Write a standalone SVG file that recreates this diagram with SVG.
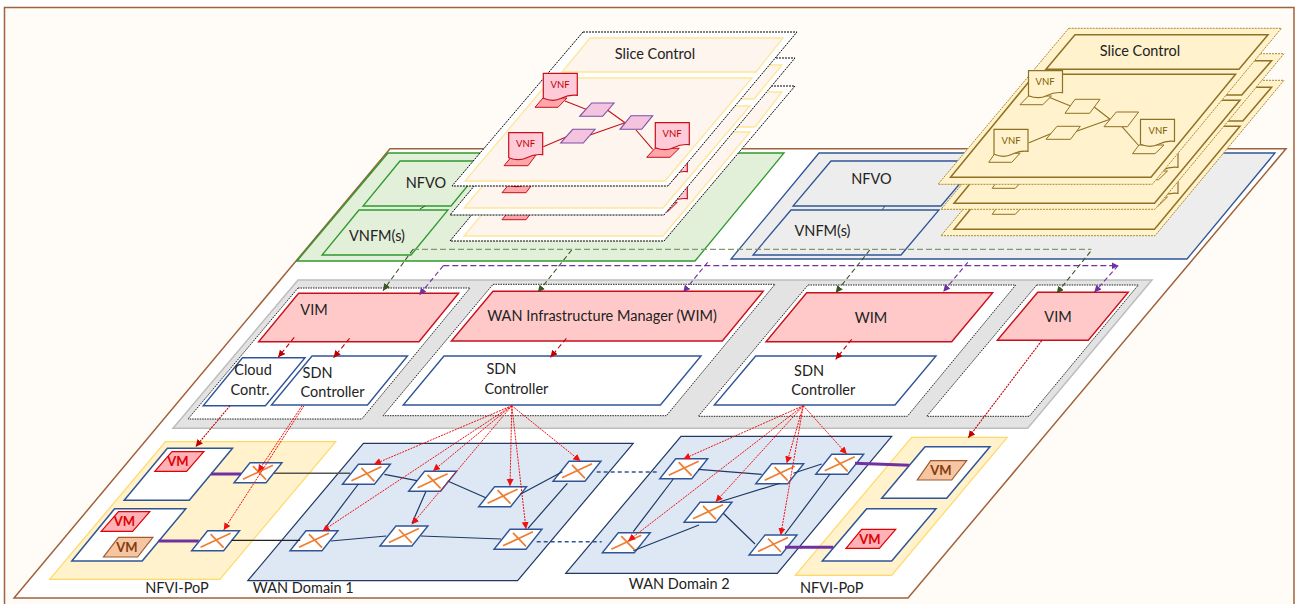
<svg xmlns="http://www.w3.org/2000/svg" width="1295" height="604" viewBox="0 0 1295 604">
<style>
text{font-family:Lato,"Open Sans","Liberation Sans",sans-serif;fill:#222;text-anchor:middle;font-size:14.5px}
.vnf{font-size:9.5px;fill:#c00000}
.vnfy{font-size:9.5px;fill:#806000}
.vmr{font-size:13px;font-weight:700;fill:#e00000}
.vmb{font-size:13px;font-weight:700;fill:#843c0c}
.band{fill:#e3e3e3;stroke:#bdbdbd;stroke-width:1.5}
.zone{fill:#fff;stroke:#222;stroke-width:1;stroke-dasharray:1.5 1}
.mgr{fill:#ffc9c9;stroke:#c8101c;stroke-width:1.4}
.ctl{fill:#fff;stroke:#2f5597;stroke-width:1.4}
.pop{fill:#fff2cc;stroke:#ffd966;stroke-width:1.2}
.wan{fill:#dee8f4;stroke:#1f3864;stroke-width:1.2}
.host{fill:#fff;stroke:#2f5597;stroke-width:1.5}
.vm1{fill:#ffb3b8;stroke:#e00000;stroke-width:1.2}
.vm2{fill:#f6c5a2;stroke:#a05a2c;stroke-width:1.2}
.sw{fill:#fff;stroke:#2f5597;stroke-width:1.4}
.swx{fill:none;stroke:#ed7d31;stroke-width:1.7}
.gr{fill:#e2efd9;stroke:#2e9a2e;stroke-width:1.3}
.gy{fill:#ededed;stroke:#2f5597;stroke-width:1.3}
.lf{fill:#fff;stroke:#000;stroke-width:1;stroke-dasharray:2 1}
.li{fill:#fdf5ee;stroke:#ffe699;stroke-width:1.3}
.rf{fill:#fff2cc;stroke:#a68a2c;stroke-width:1;stroke-dasharray:2 1}
.ri{fill:#fff2cc;stroke:#8f7122;stroke-width:1.5}
.docr{fill:#ffcbd9;stroke:#c8101c;stroke-width:1.2}
.baser{fill:#ffa6ab;stroke:#c8101c;stroke-width:1}
.para{fill:#f4c4de;stroke:#7d4ea8;stroke-width:1.1}
.rl{fill:none;stroke:#c8101c;stroke-width:1.1}
.docy{fill:#fff2cc;stroke:#8f7122;stroke-width:1.2}
.basey{fill:#fff2cc;stroke:#8f7122;stroke-width:1}
.yl{fill:none;stroke:#8f7122;stroke-width:1.1}
.lk{fill:none;stroke:#1f3864;stroke-width:1.2}
.lkd{fill:none;stroke:#2f5597;stroke-width:1.4;stroke-dasharray:4 3}
.pur{fill:none;stroke:#7030a0;stroke-width:3}
.dg{fill:none;stroke:#375623;stroke-width:1.1;stroke-dasharray:5 3;marker-end:url(#ag)}
.dgh{fill:none;stroke:#7f9a6f;stroke-width:1.3;stroke-dasharray:6 3}
.dp{fill:none;stroke:#7030a0;stroke-width:1.1;stroke-dasharray:5 3;marker-end:url(#ap)}
.dc{fill:none;stroke:#c00000;stroke-width:1.1;stroke-dasharray:5 3;marker-end:url(#ac)}
.dr{fill:none;stroke:#f01010;stroke-width:1;stroke-dasharray:2 1;marker-end:url(#ar)}
</style>
<defs>
<marker id="ag" markerUnits="userSpaceOnUse" markerWidth="8" markerHeight="8" refX="7" refY="3.5" orient="auto"><path d="M0 0L7 3.5L0 7Z" fill="#375623"/></marker>
<marker id="ap" markerUnits="userSpaceOnUse" markerWidth="8" markerHeight="8" refX="7" refY="3.5" orient="auto"><path d="M0 0L7 3.5L0 7Z" fill="#7030a0"/></marker>
<marker id="ac" markerUnits="userSpaceOnUse" markerWidth="8" markerHeight="8" refX="7" refY="3.5" orient="auto"><path d="M0 0L7 3.5L0 7Z" fill="#c00000"/></marker>
<marker id="ar" markerUnits="userSpaceOnUse" markerWidth="8" markerHeight="8" refX="7" refY="3.5" orient="auto"><path d="M0 0L7 3.5L0 7Z" fill="#f01010"/></marker>
<g id="sw"><path class="sw" d="M0 0H32L16 20H-16Z"/><path class="swx" d="M-7 16.5L23 2.5M3 3.5L16 17"/></g>
<path id="doc" d="M0 0H34V22Q26 21 18 25T0 25Z"/>
<g id="slice-l">
<path class="rl" d="M565 101L586 109.3M607.3 110L625 122.7M543.3 146.7L566.7 136.7M590 135L625 122.7M636 130L652.7 149.3"/>
<path class="baser" d="M535 107.3H558L567 98H543Z"/><use href="#doc" class="docr" x="543.3" y="73.3"/><text class="vnf" x="560" y="87.5">VNF</text>
<path class="baser" d="M504 165.7H528L536 155H513Z"/><use href="#doc" class="docr" x="508.7" y="132.7"/><text class="vnf" x="525.5" y="147">VNF</text>
<path class="baser" d="M646.7 157.3H670L679.3 148.3H655Z"/><use href="#doc" class="docr" x="655.3" y="122.7"/><text class="vnf" x="672" y="137">VNF</text>
<path class="para" d="M591.7 103H614L602.7 116.3H579.7Z"/><path class="para" d="M572.7 129.3H595L583.3 143H560.7Z"/><path class="para" d="M631 115.7H652.7L641.7 129.3H620Z"/>
</g>
<g id="slice-r">
<path class="yl" d="M1049 97.3L1070.5 106M1093 106L1110 119.3M1029 142.7L1052 133.3M1075 131.7L1110 119.3M1122 126.7L1139 146"/>
<path class="basey" d="M1020 104.7H1042.8L1051.5 96H1028.4Z"/><use href="#doc" class="docy" x="1028.5" y="70.7"/><text class="vnfy" x="1045" y="85">VNF</text>
<path class="basey" d="M988.7 162.3H1011.8L1020 153.3H995Z"/><use href="#doc" class="docy" x="994" y="129.3"/><text class="vnfy" x="1011" y="143.5">VNF</text>
<path class="basey" d="M1132.5 153.7H1155L1164 145H1139Z"/><use href="#doc" class="docy" x="1140.5" y="119.3"/><text class="vnfy" x="1158" y="133.5">VNF</text>
<path class="basey" d="M1075 99.3H1100L1089.6 113.3H1065Z"/><path class="basey" d="M1057 126.3H1080.3L1070.5 139.3H1046Z"/><path class="basey" d="M1116.3 112H1138.6L1127.5 126.7H1104Z"/>
</g>
</defs>
<rect x="4.5" y="7.5" width="1289.5" height="610" fill="#fffcf7" stroke="#a0623a" stroke-width="1.5"/>
<path id="plane" d="M390 148.7H1286L908 598H14Z" fill="#fff" stroke="#a0623a" stroke-width="1.5"/>

<g id="orchestrator-left">
<path class="gr" d="M388 153H784L695 261H297Z"/>
<path class="gr" d="M400 161H488L451 206H363Z"/>
<path class="gr" d="M359 210H448L411 255H322Z"/>
<path d="M420 209L425 206" stroke="#375623" fill="none"/>
<text x="426" y="188">NFVO</text><text x="377" y="240.5">VNFM(s)</text>
</g>
<g id="orchestrator-right">
<path class="gy" d="M819 153H1275L1187 259H731Z"/>
<path class="gy" d="M831 161H979L941 206H793Z"/>
<path class="gy" d="M791 210H939L901 255H753Z"/>
<path d="M882 210L885 206" stroke="#375623" fill="none"/>
<text x="871.5" y="184">NFVO</text><text x="822.5" y="236">VNFM(s)</text>
</g>

<g id="slices-left">
<path class="lf" d="M579 86H795L664 241H450Z"/>
<path class="li" d="M592 92H782L755 127H564Z"/><path class="li" d="M550 132H750L663 236H464Z"/>
<use href="#slice-l" x="-2" y="54"/>
<path class="lf" d="M581 58H795L664 215H450Z"/>
<path class="li" d="M592 65H782L754 99H564Z"/><path class="li" d="M550 106H750L663 208H464Z"/>
<use href="#slice-l" x="-2" y="27"/>
<path class="lf" d="M583 32H797L668 186H452Z"/>
<path class="li" d="M590 38H783L756 72H562Z"/><path class="li" d="M552 78H752L665 181H465Z"/>
<use href="#slice-l"/>
<text x="655" y="59">Slice Control</text>
</g>
<g id="slices-right">
<path class="rf" d="M1071 80.3H1284L1155 235.7H941Z"/>
<path class="ri" d="M1078 87.3H1271.6L1242.8 121H1050Z"/><path class="ri" d="M1038.5 126.3H1240L1154.5 229.3H954Z"/>
<use href="#slice-r" x="3.5" y="52"/>
<path class="rf" d="M1071 53.7H1284L1155 209.3H941Z"/>
<path class="ri" d="M1078 60.7H1271.6L1241.7 95H1050Z"/><path class="ri" d="M1038.5 100.3H1240L1154.5 203.3H954Z"/>
<use href="#slice-r" x="3.5" y="26"/>
<path class="rf" d="M1068.7 28.3H1281.4L1152.3 184.3H938Z"/>
<path class="ri" d="M1075 34.7H1268L1239 69.3H1046Z"/><path class="ri" d="M1035 74.3H1235.6L1151 177.3H950.5Z"/>
<use href="#slice-r"/>
<text x="1140" y="56">Slice Control</text>
</g>

<g id="control-band">
<path class="band" d="M298 280H1152L1027.7 428.3H173Z"/>
<path class="zone" d="M298 288H470L361.8 419H188Z"/>
<path class="zone" d="M493 284.3H775L666.4 415.7H383Z"/>
<path class="zone" d="M808 285H1015.7L907.3 416.3H698.3Z"/>
<path class="zone" d="M1036.7 285H1138.3L1029.3 416.3H926.7Z"/>
</g>
<g id="vim-1"><path class="mgr" d="M298.6 293.3H458.6L419 341.7H258.6Z"/><text x="314" y="315">VIM</text></g>
<g id="wim-1"><path class="mgr" d="M493 291.3H763.3L722.3 341H451.4Z"/><text x="602" y="321">WAN Infrastructure Manager (WIM)</text></g>
<g id="wim-2"><path class="mgr" d="M806.7 292.7H992.7L951.7 341.7H766Z"/><text x="871" y="323">WIM</text></g>
<g id="vim-2"><path class="mgr" d="M1037.7 292.3H1128.3L1088.3 340.3H997.3Z"/><text x="1058" y="322">VIM</text></g>
<g id="cloud-controller"><path class="ctl" d="M242.5 357.7H305L265.4 405.7H203.2Z"/><text x="253" y="375">Cloud</text><text x="250" y="395">Contr.</text></g>
<g id="sdn-1"><path class="ctl" d="M312 356H407.5L367.5 405H271.4Z"/><text x="317.5" y="378">SDN</text><text x="332.5" y="397">Controller</text></g>
<g id="sdn-2"><path class="ctl" d="M444 356H701L660.4 405H403.2Z"/><text x="501.4" y="374">SDN</text><text x="516.4" y="394">Controller</text></g>
<g id="sdn-3"><path class="ctl" d="M755.7 356H936L895 405H714.3Z"/><text x="809" y="376">SDN</text><text x="823.3" y="395">Controller</text></g>

<g id="nfvi-pop-left">
<path class="pop" d="M165.5 441.7H335.8L219.9 579.3H49.6Z"/>
<path class="host" d="M167.4 448.3H232.5L189.3 500.3H124.2Z"/>
<path class="host" d="M114.6 508.7H185.8L142.2 561H71.8Z"/>
<path class="vm1" d="M172 451.7H203.8L186.6 471.3H154.8Z"/><text class="vmr" x="178" y="466">VM</text>
<path class="vm1" d="M118.5 511.7H149.8L132.6 531.3H101.2Z"/><text class="vmr" x="124.5" y="526">VM</text>
<path class="vm2" d="M118.5 537.3H152.9L137.6 557H103.5Z"/><text class="vmb" x="127" y="552">VM</text>
<text x="177" y="592.5">NFVI-PoP</text>
</g>
<g id="wan-domain-1"><path class="wan" d="M363.4 443.3H633.2L517.6 580.7H247.8Z"/><text x="303.3" y="592.5">WAN Domain 1</text></g>
<g id="wan-domain-2"><path class="wan" d="M681 436.3H891.7L777.3 573.3H565.7Z"/><text x="679.3" y="589">WAN Domain 2</text></g>
<g id="nfvi-pop-right">
<path class="pop" d="M911.7 437.3H1007.3L891.7 575.3H795.3Z"/>
<path class="host" d="M925 446.7H990L946.7 498.3H881.7Z"/>
<path class="host" d="M866.7 508.7H936L891.7 561H822.3Z"/>
<path class="vm2" d="M930.7 460.7H966.7L951.7 480H917.3Z"/><text class="vmb" x="941" y="475">VM</text>
<path class="vm1" d="M861.7 529.3H895.7L879.3 548.3H846Z"/><text class="vmr" x="870" y="543.5">VM</text>
<text x="831.7" y="592.5">NFVI-PoP</text>
</g>

<g id="switches">
<use id="s1" href="#sw" x="250" y="462.7"/><use id="s2" href="#sw" x="207.6" y="530.7"/>
<use id="w1" href="#sw" x="358.4" y="464.3"/><use id="w2" href="#sw" x="424.6" y="471.3"/><use id="w3" href="#sw" x="494.6" y="486.7"/><use id="w4" href="#sw" x="569" y="461.3"/><use id="w5" href="#sw" x="306" y="530.7"/><use id="w6" href="#sw" x="395.9" y="526"/><use id="w7" href="#sw" x="510" y="529.3"/>
<use id="x1" href="#sw" x="675.7" y="458.7"/><use id="x2" href="#sw" x="771.7" y="463.7"/><use id="x3" href="#sw" x="831.7" y="454.3"/><use id="x4" href="#sw" x="700" y="502.3"/><use id="x5" href="#sw" x="618.3" y="532.7"/><use id="x6" href="#sw" x="765" y="535"/>
</g>

<g id="connectors">
<path class="pur" d="M211 474H241M158.6 541H198.8M855 463.3L909.3 465.3M785 547.3H833.3"/>
<path d="M273.4 473.3H350" fill="none" stroke="#555" stroke-width="1.4"/>
<path d="M231.4 540.3H300.2" fill="none" stroke="#222" stroke-width="1.2"/>
<path class="lk" d="M384.4 474.3L417 480.7M447.6 481L485.8 497.7M520.3 494.3L562.4 471.7M358.4 484L325 528.3M425.8 491.7L412 523.3M567.4 483.3L528 528.3M330.9 541L386.3 536M420.8 536L501 539"/>
<path class="lk" d="M698.3 469.3L761.7 474.3M793.3 473.3L821.7 464M673.3 479L633.3 531.7M780 483.3L720 501.7M723.3 513.3L755 544M830 474L785 534M633.3 550.7L699 525"/>
<path class="lkd" d="M596.7 472H656.7M536.7 541.7H601.7"/>
<path class="dgh" d="M413 249.3H1091.4"/>
<path d="M443.3 265.7H1118.5" fill="none" stroke="#7030a0" stroke-width="1.2" stroke-dasharray="6 3" marker-end="url(#ap)"/>
<path class="dg" d="M413 249.3L383 290.7"/><path class="dg" d="M571.7 250L537.9 292.3"/><path class="dg" d="M869.8 250L835.7 292.7"/><path class="dg" d="M1090.4 251.7L1056.7 293.3"/>
<path class="dp" d="M443.3 265.7L419.3 295"/><path class="dp" d="M707.7 262.3L683.2 292.3"/><path class="dp" d="M967.8 262.3L943.3 291.7"/><path class="dp" d="M1118 265.7L1094.3 292.3"/>
<path class="dc" d="M294.3 337.3L278.2 357.3"/><path class="dc" d="M349.6 338.3L333.6 357.7"/><path class="dc" d="M566.4 338.3L550.4 357.3"/><path class="dc" d="M851.7 339.3L835.7 359.3"/>
<path class="dc" style="stroke-dasharray:2 1" d="M1041.7 340.7L968.3 437.7"/>
<path class="dc" style="stroke-dasharray:2 1" d="M230 405.7L195.7 446.7"/>
<path class="dr" d="M302 405.7L258 471.7"/><path class="dr" d="M304 405.7L223.7 530"/>
<path class="dr" d="M511.8 405.7L374 464.3"/><path class="dr" d="M511.8 405.7L433 471"/><path class="dr" d="M511.8 405.7L510 486"/><path class="dr" d="M511.8 405.7L580.4 461"/><path class="dr" d="M511.8 405.7L322.4 531"/><path class="dr" d="M511.8 405.7L412 524.3"/><path class="dr" d="M511.8 405.7L526 529"/>
<path class="dr" d="M803.3 405.7L683.3 459"/><path class="dr" d="M803.3 405.7L786.7 463.3"/><path class="dr" d="M803.3 405.7L846.7 454"/><path class="dr" d="M803.3 405.7L715.7 501.7"/><path class="dr" d="M803.3 405.7L628.3 540.7"/><path class="dr" d="M803.3 405.7L780.7 535"/>
</g>
</svg>
